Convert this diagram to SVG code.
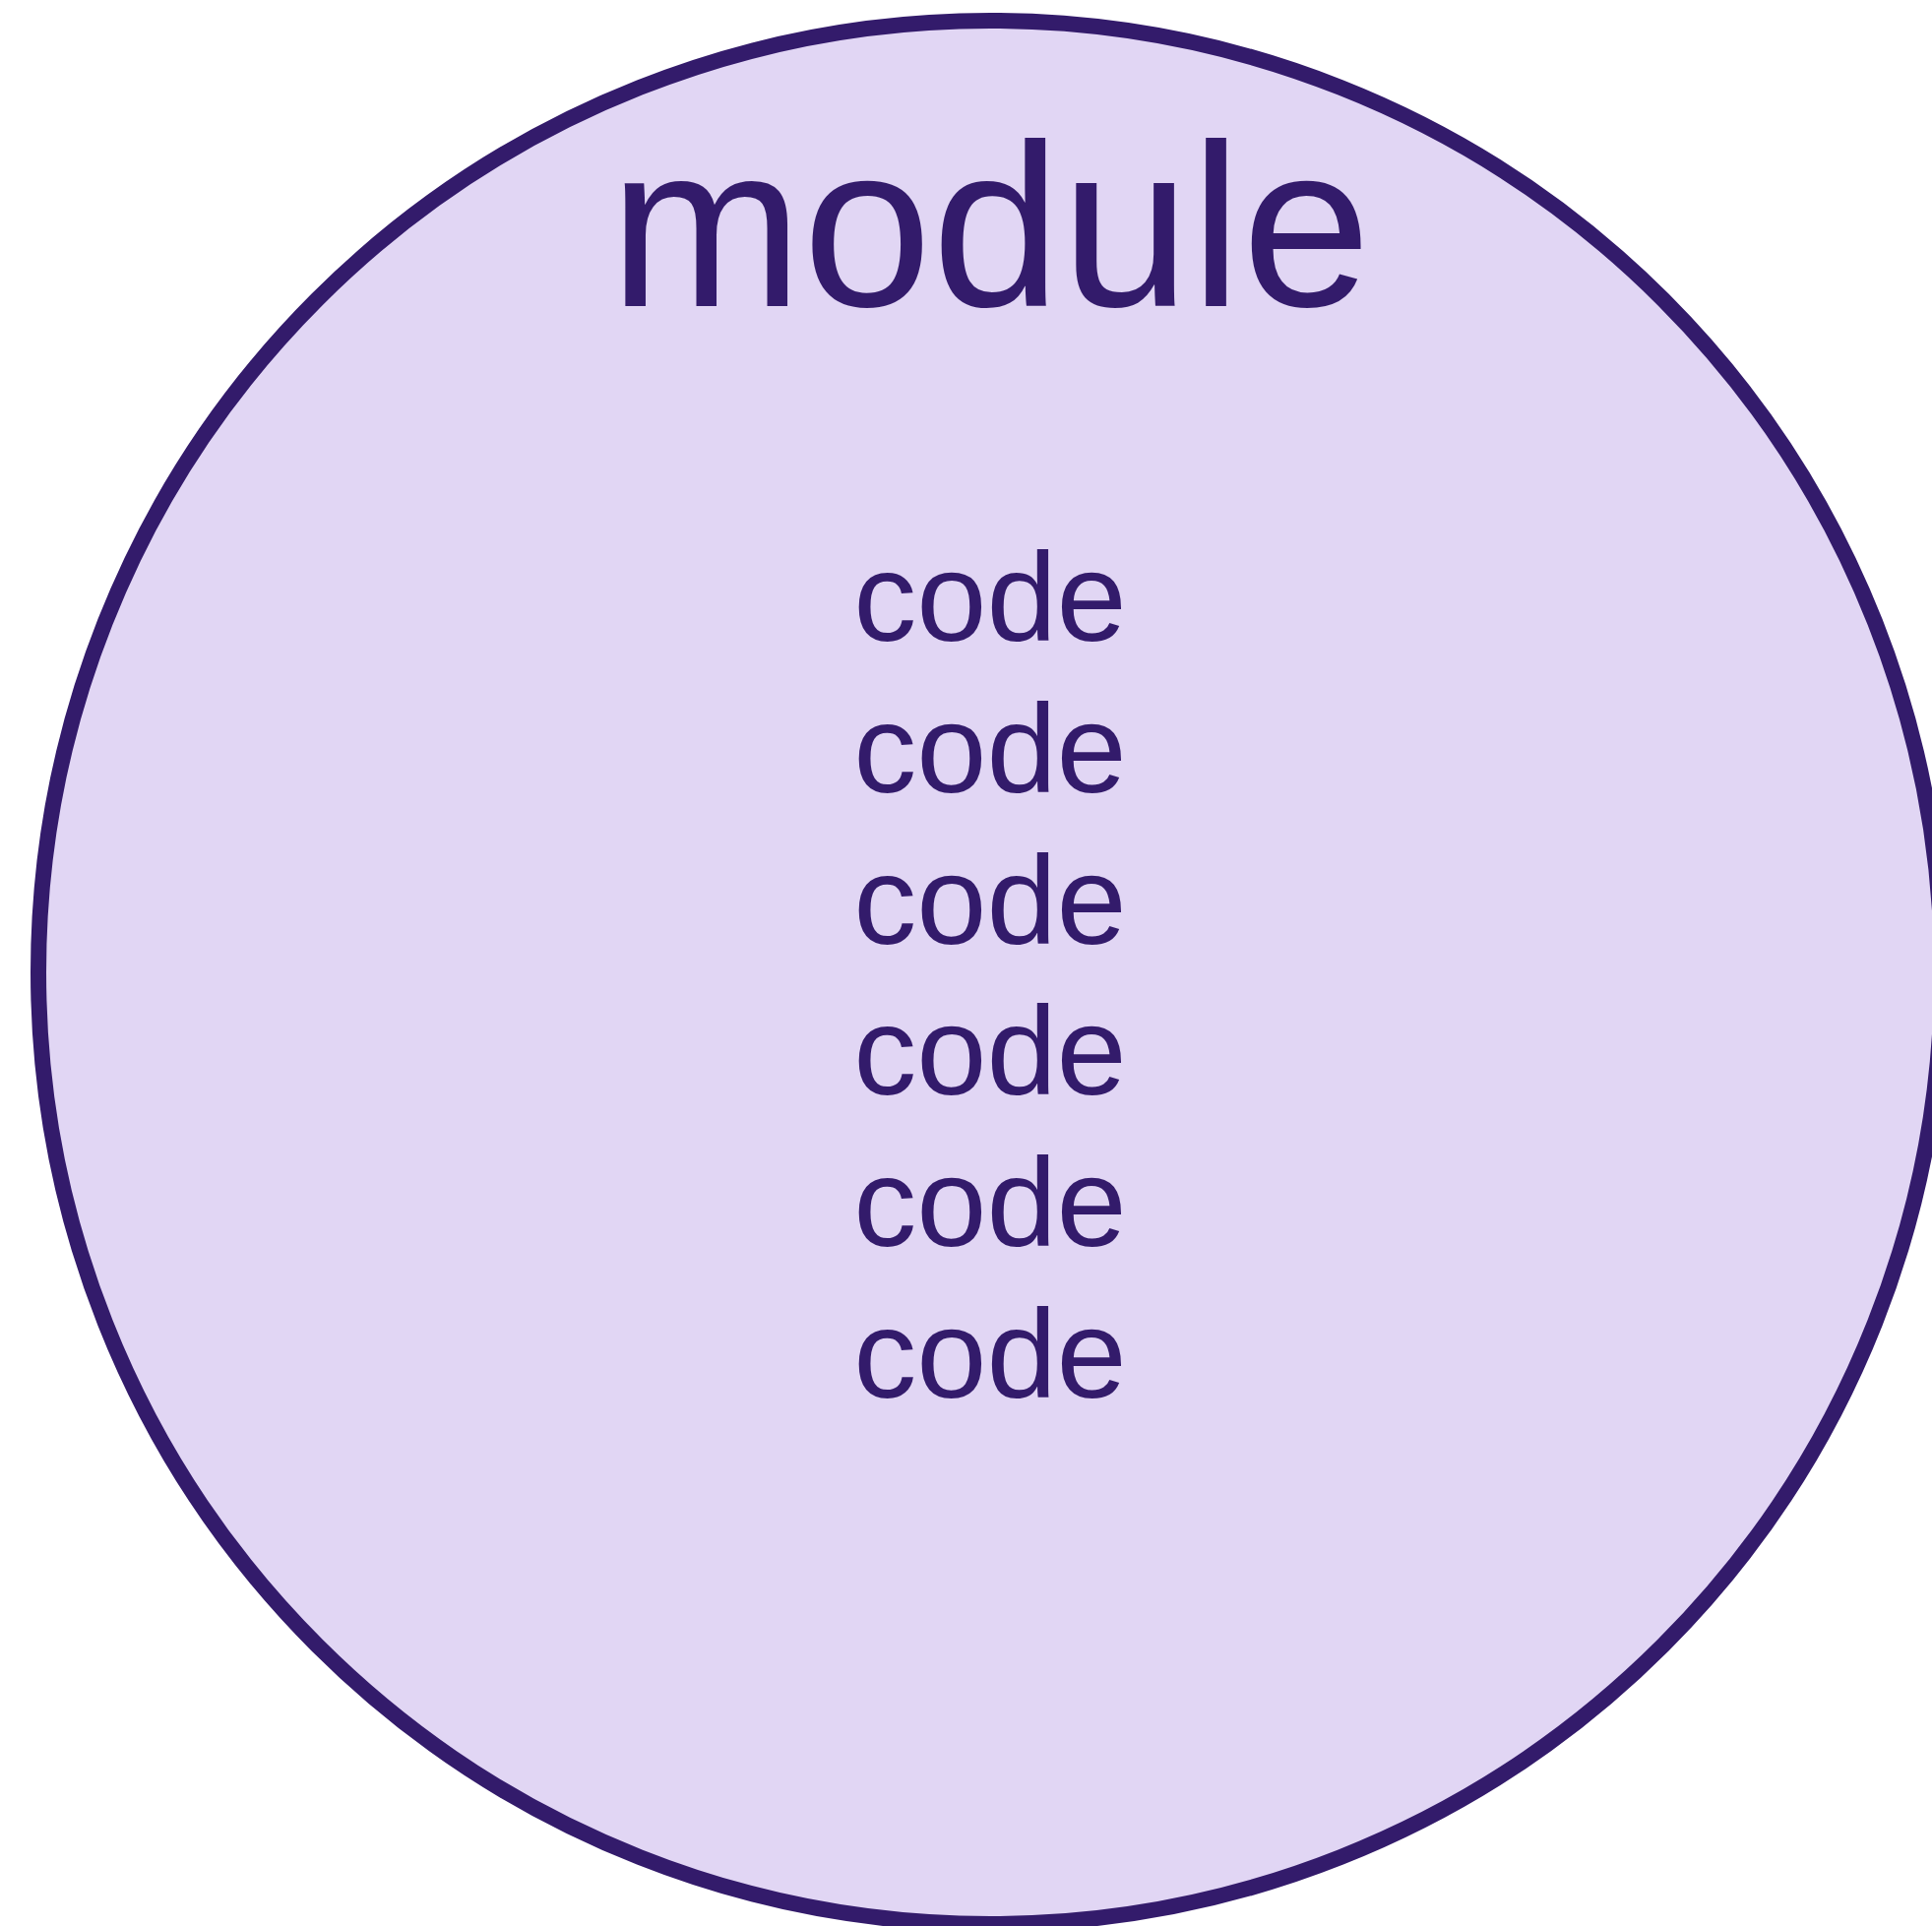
<svg xmlns="http://www.w3.org/2000/svg" width="1963" height="1957" viewBox="0 0 1963 1957">
  <style>
    .label { font-family: "Liberation Sans", Arial, sans-serif; fill: #331b6b; text-anchor: middle; }
    .title { font-size: 236px; }
    .item { font-size: 128px; }
  </style>
  <rect width="1963" height="1957" fill="#ffffff"/>
  <g id="module">
    <circle cx="1006" cy="988" r="967" fill="#e1d6f4" stroke="#331b6b" stroke-width="16"/>
    <text class="label title" x="1006" y="311">module</text>
  </g>
  <g id="code-1"><text class="label item" x="1006" y="651">code</text></g>
  <g id="code-2"><text class="label item" x="1006" y="805">code</text></g>
  <g id="code-3"><text class="label item" x="1006" y="959">code</text></g>
  <g id="code-4"><text class="label item" x="1006" y="1112">code</text></g>
  <g id="code-5"><text class="label item" x="1006" y="1266">code</text></g>
  <g id="code-6"><text class="label item" x="1006" y="1420">code</text></g>
  <g id="connectors"></g>
</svg>
